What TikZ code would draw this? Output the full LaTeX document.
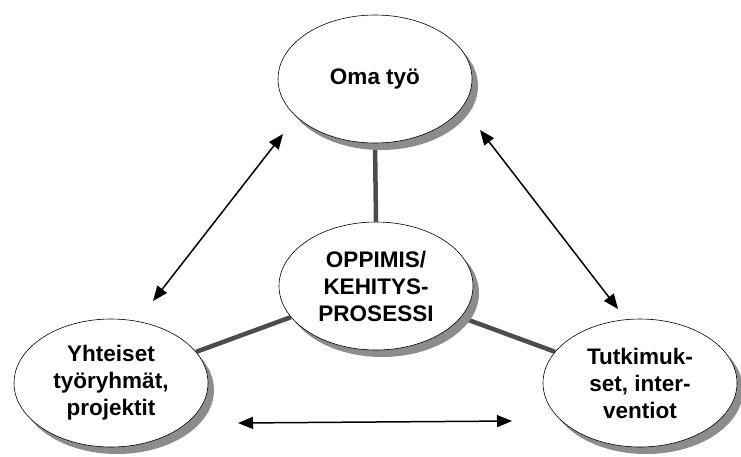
\documentclass[tikz,border=0pt]{standalone}
\usepackage{fontspec}
\setmainfont{Liberation Sans}
\usetikzlibrary{shapes.geometric,shadows,arrows.meta,backgrounds}
\tikzset{
  bubble/.style={ellipse, draw=black, line width=0.6pt, fill=white,
    minimum width=194pt, minimum height=128pt, inner sep=0pt,
    align=center, font=\fontsize{22.5}{27}\selectfont\bfseries,
    drop shadow={shadow xshift=6pt, shadow yshift=-7pt, fill=black!45, opacity=1}},
  link/.style={line width=4.5pt, draw=black!70},
  twoway/.style={line width=1.5pt, {Triangle[length=15pt,width=12pt]}-{Triangle[length=15pt,width=12pt]}}
}
\begin{document}
\begin{tikzpicture}[x=1pt,y=-1pt]
\useasboundingbox (0,0) rectangle (741,456);
\node[bubble] (t) at (375,79) {Oma työ};
\node[bubble] (c) at (376,286) {OPPIMIS/\\KEHITYS-\\PROSESSI};
\node[bubble] (l) at (111,383) {Yhteiset\\työryhmät,\\projektit};
\node[bubble] (r) at (640,383) {Tutkimuk-\\set, inter-\\ventiot};
\begin{pgfonlayer}{background}
\draw[link] (c.north) -- (t.south);
\draw[link] (c) -- (l);
\draw[link] (c) -- (r);
\end{pgfonlayer}
\coordinate (a1) at (283,134);
\coordinate (a2) at (153,301);
\coordinate (b1) at (480,130);
\coordinate (b2) at (618,309);
\coordinate (d1) at (238,423);
\coordinate (d2) at (512,421);
\draw[twoway] (a1) -- (a2);
\draw[twoway] (b1) -- (b2);
\draw[twoway] (d1) -- (d2);
\end{tikzpicture}
\end{document}
